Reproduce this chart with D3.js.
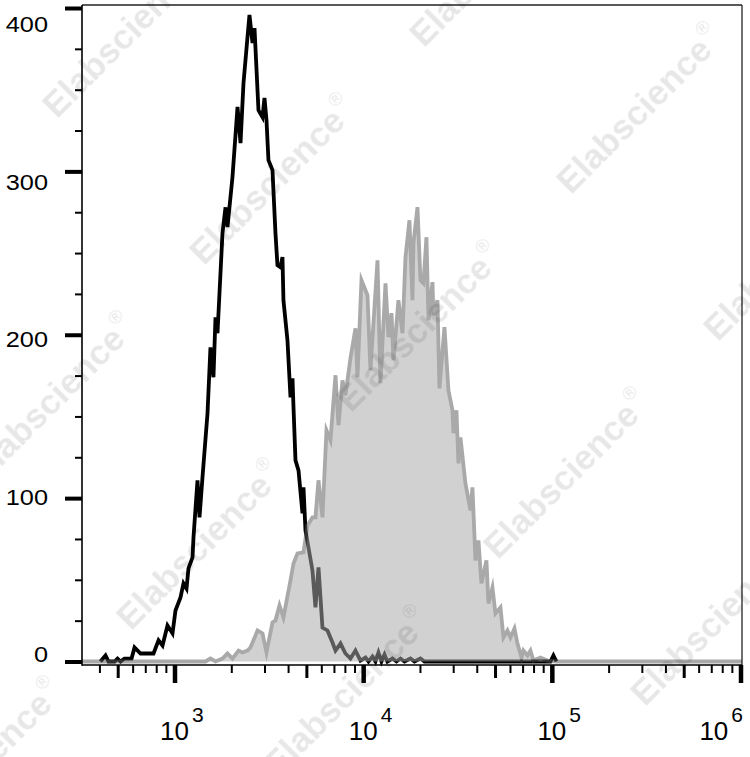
<!DOCTYPE html>
<html><head><meta charset="utf-8">
<script src="https://cdn.jsdelivr.net/npm/d3@7"></script>
<style>html,body{margin:0;padding:0;background:#fff;} svg{display:block;}</style>
</head><body>
<svg id="c" width="750" height="757"></svg>
<script>
// Unstained / isotype control (black line): [fluorescence, count]
const blackHistogram = [
 [405,0],[431,3.7],[447,0],[481,0],[499,1.8],[518,0],[543,1.8],[592,1.8],[614,8.6],[661,4.9],
 [774,4.9],[823,12.9],[864,9.8],[918,22],[976,17.2],[1012,31.2],[1076,39.2],[1116,47.8],[1158,44.7],[1186,57],
 [1246,63.7],[1261,76],[1324,110.9],[1357,88.2],[1407,112.7],[1496,151.9],[1551,192.3],[1609,174],[1649,210.7],[1690,200.9],
 [1796,262.2],[1864,278],[1909,265.9],[2029,296.5],[2158,339.4],[2238,317.3],[2321,354],[2437,382.2],[2497,395.7],[2591,378.6],
 [2655,387.7],[2787,337.5],[2927,333.2],[2999,344.9],[3073,331.4],[3148,306.9],[3306,300.8],[3429,262.2],[3513,242.6],[3645,241.3],
 [3735,247.5],[3780,221.1],[3970,196.6],[4119,161.7],[4221,173.4],[4273,155.6],[4378,123.1],[4542,117],[4768,90.7],[4827,106.6],
 [4946,80.2],[5130,69.8],[5386,55.7],[5587,33.1],[5796,57.6],[6085,20.8],[6468,19],[6877,11.6],[7134,6.7],[7582,11],
 [8056,4.9],[8564,1.8],[9103,6.7],[9676,0.6],[10290,2.4],[10670,0],[11200,3],[11620,0],[12050,5.5],[12500,0],
 [12970,4.3],[13450,0],[14300,1.8],[15010,0],[15770,1.8],[16560,0],[17810,1.8],[18700,0],[20120,1.8],[21130,0],
 [79890,0],[98320,0],[101970,3.7],[105780,0]
];
// Stained sample (grey filled histogram): [fluorescence, count]
const greyHistogram = [
 [323,0],[1460,0],[1551,1.8],[1649,0],[1796,1.8],[1909,4.9],[2029,1.8],[2184,6.7],[2293,5.5],[2437,6.7],
 [2528,8.6],[2754,19],[2927,17.2],[3073,5.5],[3306,23.9],[3429,25.1],[3601,34.3],[3780,27],[4119,49.6],[4273,60],
 [4486,66.2],[4827,66.8],[5068,83.3],[5386,88.2],[5587,88.2],[5796,110.9],[6085,88.2],[6390,141.5],[6709,135.4],[7134,175.2],
 [7398,144.6],[7769,172.1],[8056,162.9],[8564,185.6],[9103,204],[9329,174],[9795,233.4],[10540,224.2],[10930,178.3],[11910,245.6],
 [12350,170.3],[13130,231.5],[13620,198.5],[14130,213.2],[14470,184.4],[15380,221.1],[16160,200.9],[16760,247.5],[17590,270.1],[18250,221.1],
 [18470,256],[19400,278.1],[20120,233.4],[20870,231.5],[21650,259.7],[22190,208.9],[23300,232.2],[23580,212],[24760,221.1],[25370,167.2],
 [26970,204.6],[28310,166],[29730,153.8],[30100,139.7],[31220,153.8],[31990,121.3],[32780,137.2],[34840,109],[37040,92.5],[37950,106.6],
 [39370,61.9],[40830,74.1],[42350,47.8],[45020,61.9],[46130,35.5],[48450,45.3],[50250,29.4],[53420,33.1],[55410,14.7],[58190,19],
 [60350,14.7],[63380,20.2],[65740,11],[69030,2.4],[70730,6.7],[74270,3.7],[77030,6.7],[79890,0.6],[87030,2.4],[94780,0.6],
 [105780,0],[1018000,0]
];
const yMajorTicks = [0,100,200,300,400];
const yTickLabels = ["0","100","200","300","400"];
const yMinorTicks = [25,50,75,125,150,175,225,250,275,325,350,375];
const xMajorTicks = [1e3,1e4,1e5,1e6];
const xTickExponents = ["3","4","5","6"];
const xMediumTicks = [500,5e3,5e4,5e5];
const xMinorTicks = [400,600,700,800,900,2e3,3e3,4e3,6e3,7e3,8e3,9e3,2e4,3e4,4e4,6e4,7e4,8e4,9e4,2e5,3e5,4e5,6e5,7e5,8e5,9e5];
const watermarkText = "Elabscience";

const W = 750, H = 757;
const plot = {left: 82, right: 742, top: 5, bottom: 665};
const svg = d3.select("#c");

const x = d3.scaleLog().domain([1e3, 1e6]).range([174.5, 740.5]);
const y = d3.scaleLinear().domain([0, 400]).range([661.5, 8]);
// tick labels sit on a slightly compressed scale in the reference export
const yLabel = d3.scaleLinear().domain([0, 400]).range([662, 32]);

// black control histogram
const line = d3.line().x(d => x(d[0])).y(d => y(d[1]));
svg.append("path").datum(blackHistogram)
  .attr("d", line).attr("fill", "none").attr("stroke", "#000")
  .attr("stroke-width", 3.8).attr("stroke-linejoin", "miter").attr("stroke-miterlimit", 6);

// grey stained histogram (semi-transparent, over the black line)
const gGrey = svg.append("g").attr("opacity", 0.53);
const area = d3.area().x(d => x(d[0])).y0(y(0)).y1(d => y(d[1]));
gGrey.append("path").datum(greyHistogram).attr("d", area).attr("fill", "#aaaaaa");
gGrey.append("path").datum(greyHistogram).attr("d", line).attr("fill", "none")
  .attr("stroke", "#5e5e5e").attr("stroke-width", 3.8)
  .attr("stroke-linejoin", "miter").attr("stroke-miterlimit", 6);

// frame
svg.append("line").attr("x1", plot.left).attr("x2", plot.right).attr("y1", plot.top).attr("y2", plot.top)
  .attr("stroke", "#222").attr("stroke-width", 1.3);
svg.append("line").attr("x1", plot.right).attr("x2", plot.right).attr("y1", plot.top).attr("y2", plot.bottom)
  .attr("stroke", "#222").attr("stroke-width", 1.3);

// axes
function styleAxis(g, w) {
  g.select(".domain").remove();
  g.selectAll(".tick line").attr("stroke", "#000").attr("stroke-width", w);
  g.selectAll(".tick text").remove();
}
svg.append("g").attr("transform", `translate(${plot.left},0)`)
  .call(d3.axisLeft(y).tickValues(yMinorTicks).tickSize(7).tickFormat("")).call(g => styleAxis(g, 2));
svg.append("g").attr("transform", `translate(${plot.left},0)`)
  .call(d3.axisLeft(y).tickValues(yMajorTicks).tickSize(17).tickFormat("")).call(g => styleAxis(g, 4));
svg.append("g").attr("transform", `translate(0,${plot.bottom})`)
  .call(d3.axisBottom(x).tickValues(xMinorTicks).tickSize(8).tickFormat("")).call(g => styleAxis(g, 2));
svg.append("g").attr("transform", `translate(0,${plot.bottom})`)
  .call(d3.axisBottom(x).tickValues(xMediumTicks).tickSize(13).tickFormat("")).call(g => styleAxis(g, 3));
svg.append("g").attr("transform", `translate(0,${plot.bottom})`)
  .call(d3.axisBottom(x).tickValues(xMajorTicks).tickSize(18).tickFormat("")).call(g => styleAxis(g, 4.5));

svg.append("line").attr("x1", plot.left).attr("x2", plot.left).attr("y1", plot.top).attr("y2", plot.bottom + 0.75)
  .attr("stroke", "#000").attr("stroke-width", 1.6);
svg.append("line").attr("x1", plot.left).attr("x2", plot.right).attr("y1", plot.bottom).attr("y2", plot.bottom)
  .attr("stroke", "#000").attr("stroke-width", 1.6);

// y labels
const font = "'Liberation Sans', Arial, sans-serif";
yMajorTicks.forEach((v, i) => {
  svg.append("text").attr("transform", `translate(48,${yLabel(v)}) scale(1.15,1)`)
    .attr("text-anchor", "end").attr("font-family", font).attr("font-size", 22).attr("fill", "#000")
    .text(yTickLabels[i]);
});

// x labels: 10^n
xMajorTicks.forEach((v, i) => {
  const t = svg.append("text").attr("font-family", font).attr("fill", "#000");
  t.append("tspan").attr("font-size", 26).text("10");
  t.append("tspan").attr("font-size", 21).attr("dx", 3).attr("dy", -18).text(xTickExponents[i]);
  t.attr("x", 0).attr("y", 740);
  const bb = t.node().getBBox();
  // "10" centred on the tick, but keep the label inside the picture
  const tenW = 26 * 1.112;
  let x0 = x(v) - tenW / 2;
  if (x0 + bb.width > plot.right + 1) x0 = plot.right + 1 - bb.width;
  t.attr("x", x0);
});

// watermark (repeated diagonal brand mark, partly cut by the picture edge as in the reference)
const wm = svg.append("g").attr("fill", "#000").attr("opacity", 0.095)
  .attr("font-family", font).attr("font-weight", "bold");
const origin = [272, 180], u = [147, 147], vv = [220, -218];
for (let i = -2; i <= 4; i++) {
  for (let j = -3; j <= 3; j++) {
    const cx = origin[0] + i * u[0] + j * vv[0];
    const cy = origin[1] + i * u[1] + j * vv[1];
    if (cx < -60 || cx > W + 60 || cy < -60 || cy > H + 30) continue;
    const t = wm.append("text").attr("transform", `translate(${cx},${cy}) rotate(-45)`)
      .attr("text-anchor", "middle").attr("dominant-baseline", "central").attr("font-size", 35);
    t.append("tspan").text(watermarkText);
    t.append("tspan").attr("font-size", 19).attr("font-weight", "normal").attr("dy", -13).attr("dx", 2).text("®");
  }
}
</script>
</body></html>
